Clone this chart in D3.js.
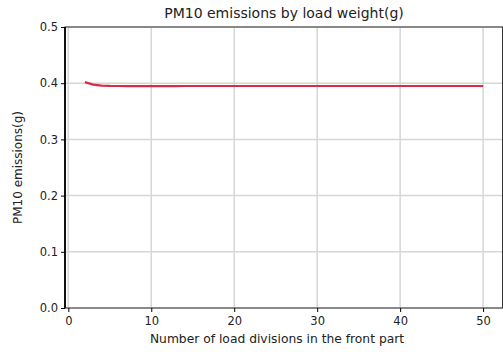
<!DOCTYPE html>
<html>
<head>
<meta charset="utf-8">
<script src="https://cdn.jsdelivr.net/npm/d3@7"></script>
<style>
  body { margin: 0; background: #fff; }
  text { font-family: "DejaVu Sans", sans-serif; }
</style>
</head>
<body>
<svg id="chart" width="503" height="352"></svg>
<script>
const divisions = [2, 3, 4, 5, 6, 7, 8, 9, 10, 11, 12, 13, 14, 15, 16, 17, 18, 19, 20,
  21, 22, 23, 24, 25, 26, 27, 28, 29, 30, 31, 32, 33, 34, 35, 36, 37, 38, 39, 40,
  41, 42, 43, 44, 45, 46, 47, 48, 49, 50];
const emissions = [0.402, 0.3975, 0.3958, 0.3952, 0.395, 0.3949, 0.3949, 0.3949, 0.3949, 0.3949,
  0.3949, 0.3949, 0.395, 0.395, 0.395, 0.395, 0.395, 0.395, 0.395, 0.395,
  0.395, 0.395, 0.395, 0.395, 0.395, 0.395, 0.395, 0.395, 0.395, 0.395,
  0.395, 0.395, 0.395, 0.395, 0.395, 0.395, 0.395, 0.395, 0.395, 0.395,
  0.395, 0.395, 0.395, 0.395, 0.395, 0.395, 0.395, 0.395, 0.395];
const xTicks = [0, 10, 20, 30, 40, 50];
const yTicks = [0.0, 0.1, 0.2, 0.3, 0.4, 0.5];

const data = divisions.map((d, i) => ({ n: d, v: emissions[i] }));

const marginLeft = 65;
const marginRight = 0;
const marginTop = 27;
const marginBottom = 44;
const width = 503;
const height = 352;

const svg = d3.select("#chart");

const x = d3.scaleLinear().domain([-0.4, 52.4]).range([marginLeft, width - marginRight]);
const y = d3.scaleLinear().domain([0, 0.5]).range([height - marginBottom, marginTop]);

// grid
svg.append("g")
  .selectAll("line")
  .data(xTicks)
  .join("line")
  .attr("x1", (d) => x(d))
  .attr("x2", (d) => x(d))
  .attr("y1", marginTop)
  .attr("y2", height - marginBottom)
  .attr("stroke", "#d6d6d6")
  .attr("stroke-width", 1.5);

svg.append("g")
  .selectAll("line")
  .data(yTicks)
  .join("line")
  .attr("x1", marginLeft)
  .attr("x2", width - marginRight)
  .attr("y1", (d) => y(d))
  .attr("y2", (d) => y(d))
  .attr("stroke", "#d6d6d6")
  .attr("stroke-width", 1.5);

// line
svg.append("path")
  .datum(data)
  .attr("fill", "none")
  .attr("stroke", "#d92a47")
  .attr("stroke-width", 2.2)
  .attr("d", d3.line().x((d) => x(d.n)).y((d) => y(d.v)));

// frame
svg.append("rect")
  .attr("x", marginLeft)
  .attr("y", marginTop)
  .attr("width", width - marginRight - marginLeft - 0.5)
  .attr("height", height - marginBottom - marginTop)
  .attr("fill", "none")
  .attr("stroke", "#333")
  .attr("stroke-width", 1);

svg.append("line")
  .attr("x1", marginLeft)
  .attr("x2", marginLeft)
  .attr("y1", marginTop)
  .attr("y2", height - marginBottom)
  .attr("stroke", "#111")
  .attr("stroke-width", 2);

// axes
const xAxis = svg.append("g")
  .attr("transform", `translate(0,${height - marginBottom})`)
  .call(d3.axisBottom(x).tickValues(xTicks).tickFormat(d3.format("d")).tickSize(4).tickSizeOuter(0))
  .call((g) => g.select(".domain").remove());
xAxis.selectAll("text").style("font-size", "11.5px").attr("fill", "#222").attr("dy", "0.85em");

const yAxis = svg.append("g")
  .attr("transform", `translate(${marginLeft},0)`)
  .call(d3.axisLeft(y).tickValues(yTicks).tickFormat(d3.format(".1f")).tickSize(4).tickSizeOuter(0))
  .call((g) => g.select(".domain").remove());
yAxis.selectAll("text").style("font-size", "11.5px").attr("fill", "#222");

// labels
svg.append("text")
  .attr("x", (marginLeft + width - marginRight) / 2)
  .attr("y", 18)
  .attr("text-anchor", "middle")
  .attr("fill", "#222")
  .style("font-size", "14px")
  .text("PM10 emissions by load weight(g)");

svg.append("text")
  .attr("x", (marginLeft + width - marginRight) / 2 - 7)
  .attr("y", 343)
  .attr("text-anchor", "middle")
  .attr("fill", "#222")
  .style("font-size", "12.3px")
  .text("Number of load divisions in the front part");

svg.append("text")
  .attr("transform", "rotate(-90)")
  .attr("x", -(marginTop + height - marginBottom) / 2)
  .attr("y", 22)
  .attr("text-anchor", "middle")
  .attr("fill", "#222")
  .style("font-size", "12px")
  .text("PM10 emissions(g)");
</script>
</body>
</html>
